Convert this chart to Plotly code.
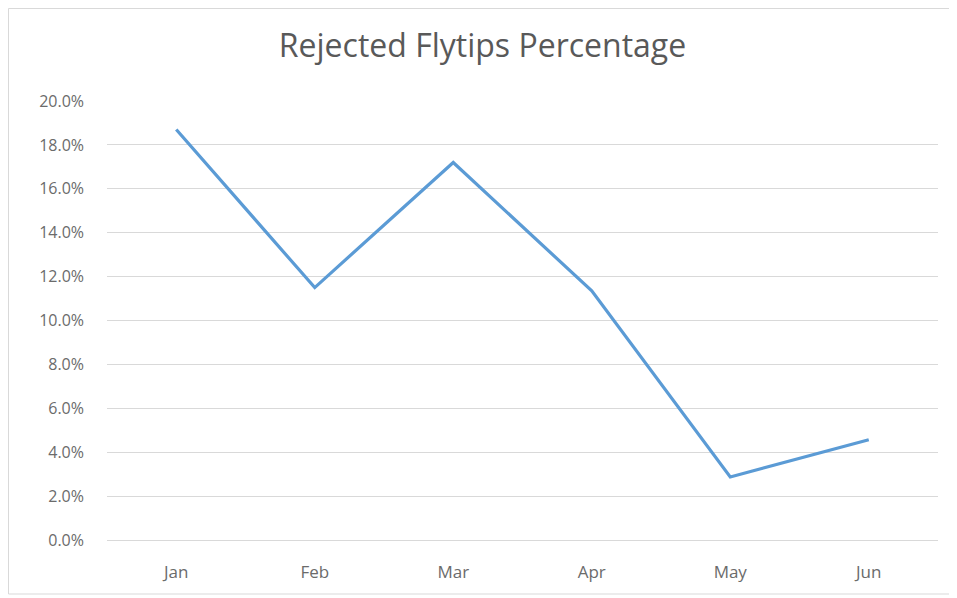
import plotly.graph_objects as go

months = ["Jan", "Feb", "Mar", "Apr", "May", "Jun"]
rejected_pct = [0.187, 0.115, 0.172, 0.1135, 0.0287, 0.0457]
y_ticks = [0, 0.02, 0.04, 0.06, 0.08, 0.10, 0.12, 0.14, 0.16, 0.18, 0.20]

fig = go.Figure()
fig.add_trace(go.Scatter(
    x=months, y=rejected_pct, mode="lines",
    line=dict(color="#5B9BD5", width=3.2),
))

# page body has an 8px offset; figure coordinates below are relative to figure origin
OFF = 8
W, H = 957 - OFF, 598 - OFF
L, R, T, B = 107 - OFF, 19, 101 - OFF, 58
pw, ph = W - L - R, H - T - B

def px_to_paper_x(px):
    return (px - L) / pw

def px_to_paper_y(py):
    return (H - B - py) / ph

fig.add_shape(type="rect", xref="paper", yref="paper",
              x0=px_to_paper_x(0.5), x1=px_to_paper_x(945),
              y0=px_to_paper_y(586), y1=px_to_paper_y(0.5),
              line=dict(color="#D9D9D9", width=1), fillcolor="rgba(0,0,0,0)",
              layer="below")

fig.update_layout(
    width=W, height=H,
    margin=dict(l=L, r=R, t=T, b=B),
    paper_bgcolor="white", plot_bgcolor="white",
    showlegend=False,
    title=dict(text="Rejected Flytips Percentage", x=0.5, xanchor="center",
               y=1 - 38 / H, yanchor="middle",
               font=dict(family="Open Sans", size=32, color="#595959")),
    font=dict(family="Open Sans", size=16, color="#595959"),
    xaxis=dict(range=[-0.5, 5.5], showgrid=False, showline=False, zeroline=False,
               ticks="", tickfont=dict(size=17, color="#6b6b6b"), ticklabelstandoff=20),
    yaxis=dict(range=[0, 0.20], tickvals=y_ticks, tickformat=".1%",
               showgrid=True, gridcolor="#D9D9D9", gridwidth=1,
               zeroline=True, zerolinecolor="#D9D9D9", zerolinewidth=1,
               showline=False, ticks="", ticklabelstandoff=22,
               tickfont=dict(size=16, color="#6b6b6b")),
)

fig.write_html("out.html")
